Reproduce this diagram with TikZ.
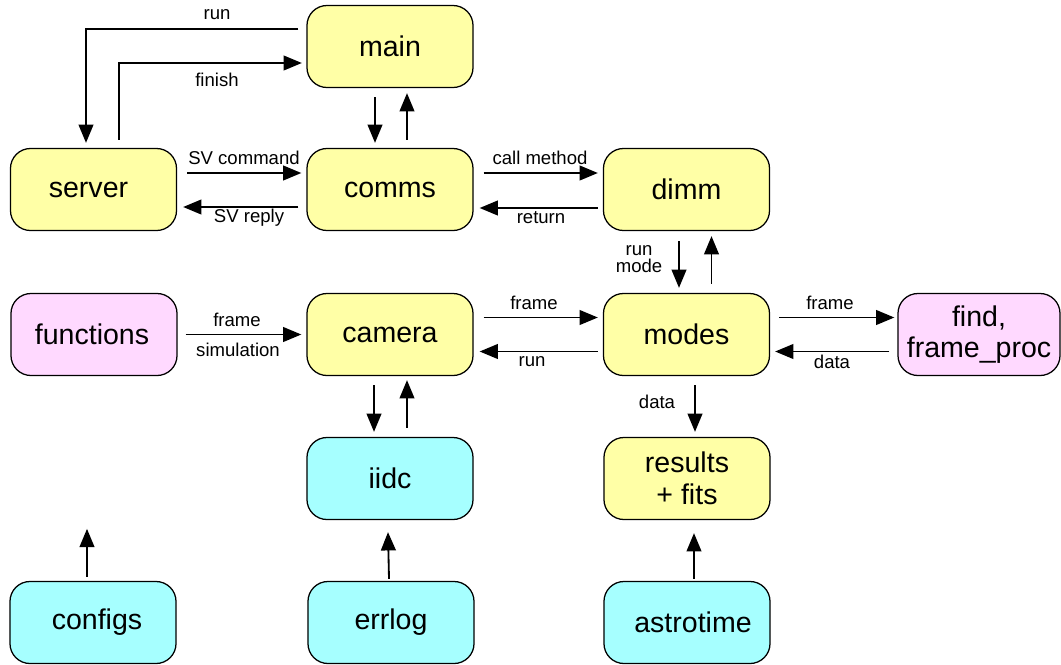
\documentclass[tikz,border=0pt]{standalone}
\usepackage{fontspec}
\setmainfont{Liberation Sans}
\usetikzlibrary{arrows.meta,calc}
\definecolor{boxyellow}{HTML}{FFFFA6}
\definecolor{boxpink}{HTML}{FFD9FF}
\definecolor{boxcyan}{HTML}{A6FFFF}
\begin{document}
\begin{tikzpicture}[x=0.025cm,y=-0.025cm,
  box/.style={draw=black,line width=0.9pt,rounded corners=0.5cm,minimum width=4.15cm,minimum height=2.05cm,inner sep=0pt,align=center,font=\fontsize{20.3}{22.5}\selectfont},
  ybox/.style={box,fill=boxyellow},
  pbox/.style={box,fill=boxpink},
  cbox/.style={box,fill=boxcyan},
  arr/.style={line width=1.3pt,-{Triangle[length=13pt,width=10.5pt]}},
  lbl/.style={font=\fontsize{13.2}{14.5}\selectfont,inner sep=0pt,align=center}]
\useasboundingbox (0,0) rectangle (1061,665);
% nodes
\node[ybox] (main) at (390,46.5) {main};
\node[ybox] (server) at (93.5,189.5) {\kern-0.25cm server};
\node[ybox] (comms) at (390,189.5) {comms};
\node[ybox] (dimm) at (686.5,189.5) {dimm};
\node[pbox] (functions) at (94,334.5) {\kern-0.1cm functions};
\node[ybox] (camera) at (390,334.5) {camera};
\node[ybox] (modes) at (686.5,334.5) {modes};
\node[pbox,minimum width=4.05cm] (find) at (979,334.5) {find,\\frame\_proc};
\node[cbox] (iidc) at (390,478.5) {iidc};
\node[ybox] (results) at (687,478.5) {results\\+ fits};
\node[cbox] (configs) at (93,622.5) {\kern0.2cm configs};
\node[cbox] (errlog) at (391,622.5) {errlog};
\node[cbox] (astrotime) at (687,622.5) {\kern0.3cm astrotime};
% connectors
\draw[arr] ($(main.west)+(-8,-17.5)$) -| ($(server.north)+(-7.5,-5)$);
\draw[arr] ($(server.north)+(25.5,-8)$) |- ($(main.west)+(-4.5,16.5)$);
\draw[arr] ($(main.south)+(-15,9)$) -- ($(comms.north)+(-15,-5)$);
\draw[arr] ($(comms.north)+(17,-8)$) -- ($(main.south)+(17,5)$);
\draw[arr] ($(server.east)+(10,-16.5)$) -- ($(comms.west)+(-5,-16.5)$);
\draw[arr] ($(comms.west)+(-8,17.5)$) -- ($(server.east)+(6,17.5)$);
\draw[arr] ($(comms.east)+(10,-16.5)$) -- ($(dimm.west)+(-5,-16.5)$);
\draw[arr] ($(dimm.west)+(-5,18.5)$) -- ($(comms.east)+(6,18.5)$);
\draw[arr] ($(dimm.south)+(-7.5,10)$) -- ($(modes.north)+(-7.5,-5)$);
\draw[arr] ($(modes.north)+(25,-9)$) -- ($(dimm.south)+(25,5)$);
\draw[arr] ($(functions.east)+(8,0)$) -- ($(camera.west)+(-5,0)$);
\draw[arr] ($(camera.east)+(10,-17)$) -- ($(modes.west)+(-5,-17)$);
\draw[arr] ($(modes.west)+(-5,17)$) -- ($(camera.east)+(6,17)$);
\draw[arr] ($(modes.east)+(9,-17)$) -- ($(find.west)+(-3,-17)$);
\draw[arr] ($(find.west)+(-8,17)$) -- ($(modes.east)+(5,17)$);
\draw[arr] ($(camera.south)+(-16,9)$) -- ($(iidc.north)+(-16,-5)$);
\draw[arr] ($(iidc.north)+(17,-9)$) -- ($(camera.south)+(17,4)$);
\draw[arr] ($(modes.south)+(8.5,9)$) -- ($(results.north)+(8,-5)$);
\coordinate (cfgend) at ($(configs.north)+(-6,-52)$);
\draw[arr] ($(configs.north)+(-6,-4)$) -- (cfgend);
\draw[arr] ($(errlog.north)+(-2,-2)$) -- ($(iidc.south)+(-2,12)$);
\draw[arr] ($(astrotime.north)+(7,-2)$) -- ($(results.south)+(7,13)$);
% labels
\node[lbl] (lrun) at (217,15) {run};
\node[lbl] (lfinish) at (217,80) {finish};
\node[lbl] (lsvc) at (244,158) {SV command};
\node[lbl] (lsvr) at (249,218) {SV reply};
\node[lbl] (lcall) at (540,158) {call method};
\node[lbl] (lret) at (541,218) {return};
\node[lbl] (lrunmode) at (639,259) {run\\[-2pt]mode};
\node[lbl] (lframe1) at (237,320) {frame};
\node[lbl] (lsim) at (238,350) {simulation};
\node[lbl] (lframe2) at (534,303) {frame};
\node[lbl] (lrun2) at (532,362) {run};
\node[lbl] (lframe3) at (830,303) {frame};
\node[lbl] (ldata1) at (832,362) {data};
\node[lbl] (ldata2) at (657,402) {data};
\end{tikzpicture}
\end{document}
